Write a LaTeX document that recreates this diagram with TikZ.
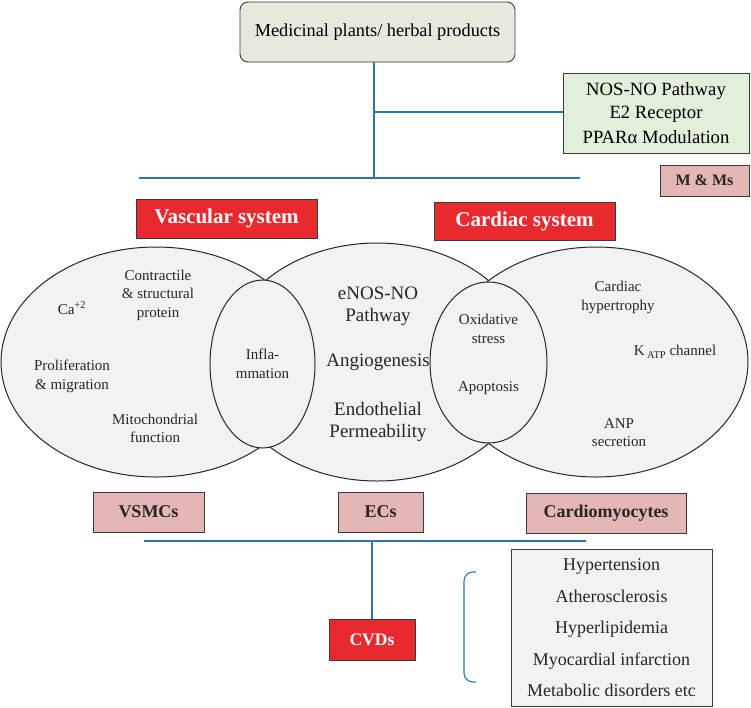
\documentclass[tikz,border=0pt]{standalone}
\usepackage{fontspec}
\setmainfont{Liberation Serif}
\usepackage{tikz}
\usetikzlibrary{arrows.meta}
\usetikzlibrary{calc}
\usetikzlibrary{positioning}
\usetikzlibrary{shapes}

\definecolor{linkblue}{HTML}{2E75B6}
\definecolor{boxred}{HTML}{E8292E}
\definecolor{boxpink}{HTML}{E5B6B5}
\definecolor{boxgreen}{HTML}{E2EFDA}
\definecolor{boxbeige}{HTML}{E8E8DE}
\definecolor{cellgray}{HTML}{F2F2F2}
\definecolor{edgegray}{HTML}{3A3A3A}

\tikzset{
  link/.style={draw=linkblue,line width=1.4pt},
  redbox/.style={draw=edgegray,line width=0.9pt,fill=boxred,text=white,
    font=\fontsize{21}{24}\selectfont\bfseries,inner sep=0pt},
  pinkbox/.style={draw=edgegray,line width=0.9pt,fill=boxpink,text=black!85,
    font=\fontsize{18}{21}\selectfont\bfseries,inner sep=0pt},
  cell/.style={draw=black!85,line width=1pt,fill=cellgray,ellipse,inner sep=0pt},
  small/.style={align=center,font=\fontsize{15}{18.5}\selectfont,text=black!85},
  big/.style={align=center,font=\fontsize{19}{21.5}\selectfont,text=black!85}
}

\begin{document}
\begin{tikzpicture}[x=1pt,y=-1pt]
  \useasboundingbox (0,0) rectangle (751,707);

  \node[draw=edgegray,line width=0.9pt,fill=boxbeige,rounded corners=8pt,
    minimum width=275pt,minimum height=60pt,inner sep=0pt,
    font=\fontsize{18.3}{21}\selectfont] (plants) at (377.5,32) {Medicinal plants/ herbal products};
  \node[draw=edgegray,line width=0.9pt,fill=boxgreen,minimum width=186pt,minimum height=80pt,
    inner sep=0pt,align=center,font=\fontsize{18.7}{23}\selectfont] (mech) at (656,113)
    {NOS-NO Pathway\\E2 Receptor\\[2pt]PPARα Modulation};
  \node[pinkbox,minimum width=89pt,minimum height=31pt,font=\fontsize{16}{18}\selectfont\bfseries] (mms) at (704.5,180.5) {M \& Ms};

  \coordinate (barL) at (139,178);
  \coordinate (barR) at (580,178);
  \coordinate (barM) at (374,178);
  \draw[link] (374,62) coordinate (stem) -- (barM);
  \draw[link] (barL) -- (barR);
  \draw[link] (374,112) coordinate (tap) -- (mech.west |- tap);

  \node[redbox,minimum width=181pt,minimum height=39pt] (vasc) at (226.5,218.5) {Vascular system};
  \node[redbox,minimum width=181pt,minimum height=38pt] (card) at (524.5,221) {Cardiac system};

  \node[cell,minimum width=310pt,minimum height=230pt] (vsm) at (156,362) {};
  \node[cell,minimum width=306pt,minimum height=238pt] (endo) at (377,362) {};
  \node[cell,minimum width=304pt,minimum height=230pt] (myo) at (596,362) {};
  \node[cell,minimum width=105pt,minimum height=168pt] (infl) at (262.5,364) {};
  \node[cell,minimum width=117pt,minimum height=161pt] (oxid) at (488.5,362.5) {};

  \node[small] (calc) at (72,308) {Ca\textsuperscript{+2}};
  \node[small] (contr) at (158,295) {Contractile\\\& structural\\protein};
  \node[small] (prolif) at (72,376.5) {Proliferation\\\& migration};
  \node[small] (mito) at (155,428.5) {Mitochondrial\\function};
  \node[small] at (infl) {Infla-\\mmation};

  \node[big] (enos) at (378,306.5) {eNOS-NO\\Pathway};
  \node[big] (angio) at (378,362) {Angiogenesis};
  \node[big] (perm) at (378,422) {Endothelial\\Permeability};

  \node[small] (oxs) at (488.5,329) {Oxidative\\stress};
  \node[small] (apop) at (488.5,388) {Apoptosis};
  \node[small] (hyper) at (618,297.5) {Cardiac\\hypertrophy};
  \node[small] (katp) at (675,352) {K\,\raisebox{-0.4ex}{\fontsize{10.5}{11}\selectfont ATP} channel};
  \node[small] (anp) at (619,432.5) {ANP\\secretion};

  \node[pinkbox,minimum width=111pt,minimum height=40pt] (vsmcs) at (148.5,512) {VSMCs};
  \node[pinkbox,minimum width=85pt,minimum height=40pt] (ecs) at (380.5,512) {ECs};
  \node[pinkbox,minimum width=160pt,minimum height=40pt] (cmc) at (606,513) {Cardiomyocytes};

  \node[redbox,minimum width=86pt,minimum height=41pt,font=\fontsize{17.6}{20}\selectfont\bfseries] (cvd) at (372,639.5) {CVDs};
  \node[draw=edgegray,line width=0.9pt,fill=cellgray,minimum width=201pt,minimum height=157pt,
    inner sep=0pt,align=center,font=\fontsize{18}{31.5}\selectfont,text=black!85] (dis) at (611.5,628)
    {Hypertension\\Atherosclerosis\\Hyperlipidemia\\Myocardial infarction\\Metabolic disorders etc};

  \coordinate (baseL) at (144,541);
  \coordinate (baseR) at (586,541);
  \draw[link] (baseL) -- (baseR);
  \draw[link] (cvd.north |- baseL) -- (cvd.north);
  \draw[draw=linkblue,line width=1.1pt,rounded corners=9pt] (476,572) -- (464,572) -- (464,682) -- (476,682);
\end{tikzpicture}
\end{document}
